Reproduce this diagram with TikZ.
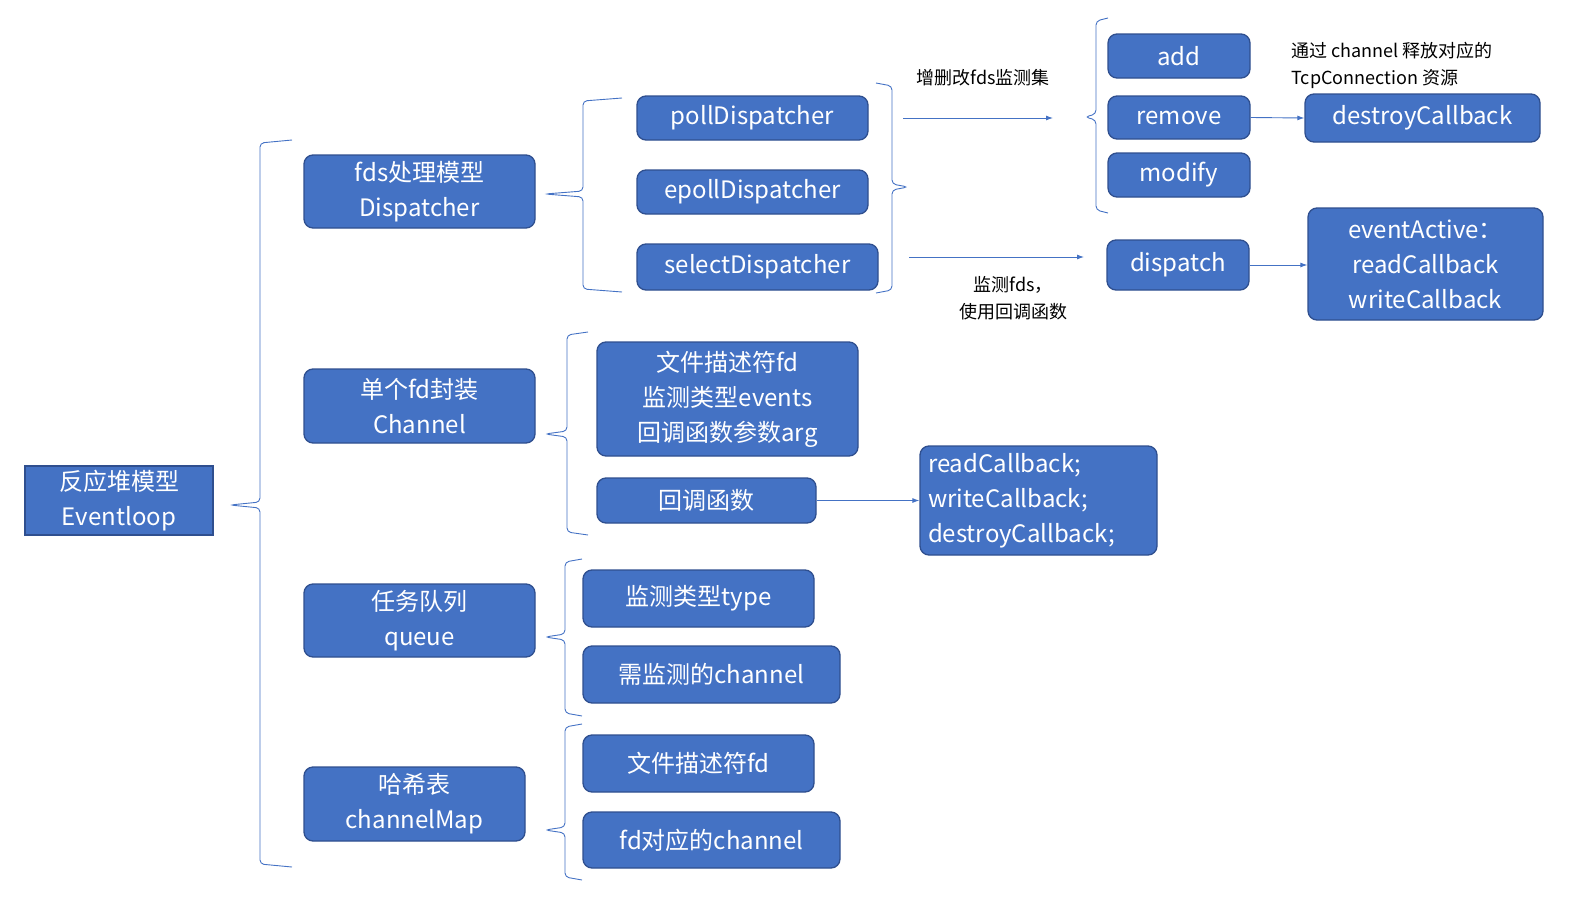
\documentclass[tikz,border=0pt]{standalone}
\usepackage{fontspec}
\setmainfont{Noto Sans CJK SC}
\usetikzlibrary{arrows.meta}
\definecolor{bfill}{HTML}{4472C4}
\definecolor{bline}{HTML}{2F4F8F}
\tikzset{
 box/.style={draw=bline,line width=1.3pt,fill=bfill,text=white,rounded corners=9pt,align=center,inner sep=0pt,font=\fontsize{24}{35}\selectfont},
 sq/.style={box,rounded corners=0pt},
 br/.style={draw=bfill,line width=0.9pt,rounded corners=4pt},
 ar/.style={draw=bfill,line width=0.9pt,-{Latex[length=7pt,width=5pt]}},
 lbl/.style={font=\fontsize{18}{27}\selectfont,align=center,text=black}
}
\newcommand\bx[7][box]{\node[#1,minimum width={(#5-#3)*1pt},minimum height={(#6-#4)*1pt}] (#2) at ({(#3+#5)/2},{(#4+#6)/2}) {#7};}
\newcommand\lbr[6]{\draw[br] (#4,#5) -- (#3,#5+3) -- (#3,#2-3) -- (#1,#2) -- (#3,#2+3) -- (#3,#6-3) -- (#4,#6);}
\begin{document}
\begin{tikzpicture}[x=1pt,y=-1pt]
\useasboundingbox (0,0) rectangle (1596,897);
\bx[sq]{ev}{25}{466}{213}{535}{反应堆模型\\Eventloop}
\bx{disp}{304}{155}{535}{228}{fds处理模型\\Dispatcher}
\bx{chan}{304}{369}{535}{443}{单个fd封装\\Channel}
\bx{que}{304}{584}{535}{657}{任务队列\\queue}
\bx{cmap}{304}{767}{525}{841}{哈希表\\channelMap}
\bx{poll}{637}{96}{868}{140}{pollDispatcher}
\bx{epoll}{637}{170}{868}{214}{epollDispatcher}
\bx{sel}{637}{244}{878}{290}{selectDispatcher}
\bx{add}{1108}{34}{1250}{78}{add}
\bx{rem}{1108}{96}{1250}{139}{remove}
\bx{mod}{1108}{153}{1250}{197}{modify}
\bx{destroy}{1305}{94}{1540}{142}{destroyCallback}
\bx{dispatch}{1107}{240}{1249}{290}{dispatch}
\bx{active}{1308}{208}{1543}{320}{eventActive：\\readCallback\\writeCallback}
\bx{fdinfo}{597}{342}{858}{456}{文件描述符fd\\监测类型events\\回调函数参数arg}
\bx{cb}{597}{478}{816}{523}{回调函数}
\node[box,align=left,minimum width=237pt,minimum height=109pt,text width=221pt] (cbs) at (1038.5,500.5) {readCallback;\\writeCallback;\\destroyCallback;};
\bx{type}{583}{570}{814}{627}{监测类型type}
\bx{need}{583}{646}{840}{703}{需监测的channel}
\bx{fd2}{583}{735}{814}{792}{文件描述符fd}
\bx{fdch}{583}{812}{840}{868}{fd对应的channel}
\lbr{230}{505}{260}{292}{140}{867}
\lbr{545}{194}{583}{622}{98}{292}
\lbr{1085}{117}{1096}{1108}{18}{213}
\lbr{545}{434}{567}{588}{332}{535}
\lbr{545}{637}{565}{582}{559}{716}
\lbr{545}{830}{565}{582}{724}{880}
\draw[br] (876,83) -- (892,86) -- (892,184) -- (908,187) -- (892,190) -- (892,290) -- (876,293);
\coordinate (a1) at (903,118); \coordinate (a2) at (1053,118);
\coordinate (b1) at (909,257); \coordinate (b2) at (1084,257);
\draw[ar] (a1) -- (a2);
\draw[ar] (b1) -- (b2);
\node[lbl] (l1) at (983,78) {增删改fds监测集};
\node[lbl] (l2) at (1013,298) {监测fds，\\使用回调函数};
\node[lbl,align=left,anchor=west] (l3) at (1288,65) {通过 channel 释放对应的\\TcpConnection 资源};
\draw[ar] (rem.east) -- (destroy.west);
\draw[ar] (dispatch.east) -- (active.west|-dispatch.east);
\draw[ar] (cb.east) -- (cbs.west|-cb.east);
\end{tikzpicture}
\end{document}
